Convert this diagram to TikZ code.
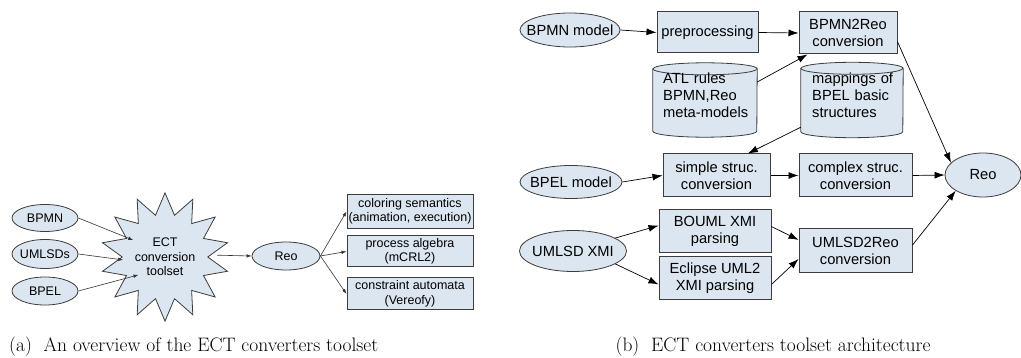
\documentclass[tikz,border=0pt]{standalone}
\usepackage{fontspec}
\newfontfamily\arial{Liberation Sans}
\newfontfamily\capfont{Latin Modern Roman}
\usetikzlibrary{shapes.geometric,arrows.meta,calc}
\definecolor{bfill}{HTML}{DCE6F1}
\definecolor{bord}{HTML}{3C3C3C}
\newcommand{\myzb}[1]{\makebox[0pt]{#1}}
\tikzset{
  ell/.style={ellipse, draw=bord, fill=bfill, line width=0.8pt, inner sep=0pt},
  bx/.style={rectangle, draw=bord, fill=bfill, line width=1pt, inner sep=0pt, align=center},
  lt/.style={font=\arial\fontsize{12.5}{14.5}\selectfont},
  rt/.style={font=\arial\fontsize{14.7}{17}\selectfont},
  arL/.style={draw=black!80, line width=0.6pt, -{Latex[length=5pt,width=3.5pt]}},
  arR/.style={draw=black, line width=0.7pt, -{Latex[length=10pt,width=7pt]}},
  cyltxt/.style={inner sep=0pt, align=left, text width=90pt},
  cylshape/.style={draw=bord, fill=bfill, line width=0.8pt},
  captext/.style={font=\capfont\fontsize{19.5}{22}\selectfont, inner sep=0pt}
}
\begin{document}
\begin{tikzpicture}[x=1pt,y=-1pt]
\useasboundingbox (0,0) rectangle (1021,358);
% ---------- (a) ----------
\node[ell, lt, minimum width=66pt, minimum height=27pt] (bpmnL) at (45,218) {\myzb{BPMN}};
\node[ell, lt, minimum width=66pt, minimum height=29pt] (umlL) at (45,254) {\myzb{UMLSDs}};
\node[ell, lt, minimum width=66pt, minimum height=28pt] (bpelL) at (45,291) {\myzb{BPEL}};
\node[star, star points=14, star point ratio=1.5, draw=bord, fill=bfill, line width=0.8pt,
      inner sep=0pt, minimum size=112pt, lt, align=center] (star) at (165,257)
      {ECT\\conversion\\toolset};
\node[ell, lt, minimum width=68pt, minimum height=28pt] (reoL) at (286,256) {\myzb{Reo}};
\node[bx, lt, minimum width=126pt, minimum height=34pt] (c1) at (410,211.5) {coloring semantics\\(animation, execution)};
\node[bx, lt, minimum width=126pt, minimum height=31pt] (c2) at (410,251.5) {process algebra\\(mCRL2)};
\node[bx, lt, minimum width=126pt, minimum height=32pt] (c3) at (410,294) {constraint automata\\(Vereofy)};
\draw[arL] (bpmnL.east) -- ($(star.center)+(152:36pt)$);
\draw[arL] (umlL.east) -- ($(star.center)+(184:42pt)$);
\draw[arL] (bpelL.east) -- ($(star.center)+(214:32pt)$);
\draw[arL] ($(star.center)+(2:52pt)$) -- (reoL.west);
\draw[arL] (reoL.east) -- (c1.west);
\draw[arL] (reoL.east) -- (c2.west);
\draw[arL] (reoL.east) -- (c3.west);
% ---------- (b) ----------
\node[ell, rt, minimum width=100pt, minimum height=34pt] (bpmnm) at (570,30) {\myzb{BPMN model}};
\node[bx, rt, minimum width=101pt, minimum height=41pt] (prep) at (707.5,32.5) {preprocessing};
\node[bx, rt, minimum width=98pt, minimum height=42pt] (b2r) at (848,33) {BPMN2Reo\\conversion};
% cylinders
\node[cyltxt, rt, minimum width=104pt, minimum height=74pt] (atl) at (705,100) {};
\node[cyltxt, rt, minimum width=102pt, minimum height=75pt] (map) at (852,100) {};
\path[cylshape] ([yshift=-6pt]atl.north west) -- ([yshift=6pt]atl.south west)
   arc[start angle=180, end angle=360, x radius=52pt, y radius=6pt]
   -- ([yshift=-6pt]atl.north east)
   arc[start angle=0, end angle=180, x radius=52pt, y radius=6pt] -- cycle;
\draw[draw=bord, line width=0.8pt] ([yshift=-6pt]atl.north west)
   arc[start angle=180, end angle=360, x radius=52pt, y radius=6pt];
\path[cylshape] ([yshift=-6pt]map.north west) -- ([yshift=6pt]map.south west)
   arc[start angle=180, end angle=360, x radius=51pt, y radius=6pt]
   -- ([yshift=-6pt]map.north east)
   arc[start angle=0, end angle=180, x radius=51pt, y radius=6pt] -- cycle;
\draw[draw=bord, line width=0.8pt] ([yshift=-6pt]map.north west)
   arc[start angle=180, end angle=360, x radius=51pt, y radius=6pt];
\node[cyltxt, rt, anchor=north west] (atltxt) at (663,73) {ATL rules\\BPMN,Reo\\meta-models};
\node[cyltxt, rt, anchor=north west] (maptxt) at (812,73) {mappings of\\BPEL basic\\structures};
\node[ell, rt, minimum width=102pt, minimum height=33pt] (bpelm) at (571,182) {\myzb{BPEL model}};
\node[bx, rt, minimum width=107pt, minimum height=43pt] (simple) at (716.5,175.5) {simple struc.\\conversion};
\node[bx, rt, minimum width=113pt, minimum height=43pt] (complex) at (855.5,175.5) {complex struc.\\conversion};
\node[ell, rt, minimum width=76pt, minimum height=44pt] (reoR) at (983,175) {\myzb{Reo}};
\node[ell, rt, minimum width=107pt, minimum height=41pt] (umlsd) at (573,251) {\myzb{UMLSD XMI}};
\node[bx, rt, minimum width=112pt, minimum height=43pt] (bouml) at (715,231.5) {BOUML XMI\\parsing};
\node[bx, rt, minimum width=112pt, minimum height=43pt] (eclipse) at (715,278.5) {Eclipse UML2\\XMI parsing};
\node[bx, rt, minimum width=113pt, minimum height=44pt] (u2r) at (855.5,251) {UMLSD2Reo\\conversion};
\draw[arR] (bpmnm.east) -- (prep.west);
\draw[arR] (prep.east) -- (b2r.west);
\draw[arR] (atl.19) -- (b2r.-152);
\draw[arR] (map.-152) -- (simple.35);
\draw[arR] (b2r.-10) -- (reoR.159);
\draw[arR] (bpelm.east) -- (simple.west);
\draw[arR] (simple.east) -- (complex.west);
\draw[arR] (complex.east) -- (reoR.west);
\draw[arR] (umlsd.17) -- (bouml.174);
\draw[arR] (umlsd.-17) -- (eclipse.186);
\draw[arR] (bouml.5) -- (u2r.169);
\draw[arR] (eclipse.-6) -- (u2r.188);
\draw[arR] (u2r.6) -- (reoR.210);
% captions
\node[captext, anchor=base west] (capa) at (9,352) {(a)\hspace{0.6em}An overview of the ECT converters toolset};
\node[captext, anchor=base] (capb) at (773,352) {(b)\hspace{0.6em}ECT converters toolset architecture};
\end{tikzpicture}
\end{document}
